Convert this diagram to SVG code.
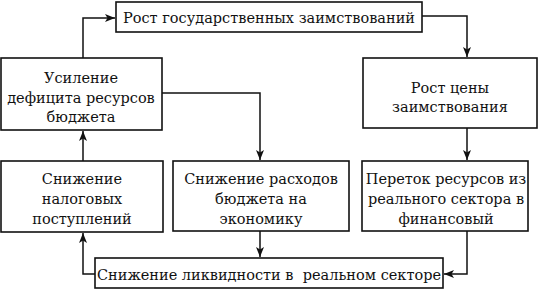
<svg xmlns="http://www.w3.org/2000/svg" width="538" height="290" viewBox="0 0 538 290">
<style>
.box{fill:#fff;stroke:#111;stroke-width:1.6}
.t{font-family:"DejaVu Serif","Liberation Serif",serif;font-size:14.5px;fill:#111;text-anchor:middle}
.c{fill:none;stroke:#111;stroke-width:1.5}
</style>
<defs>
<marker id="ah" viewBox="0 0 10 8" refX="10" refY="4" markerWidth="10" markerHeight="8" markerUnits="userSpaceOnUse" orient="auto">
<path d="M0,0 L10,4 L0,8 L2.5,4 Z" fill="#111"/>
</marker>
</defs>
<rect width="538" height="290" fill="#fff"/>
<g id="connectors">
<path class="c" d="M83,58 V18 H115" marker-end="url(#ah)"/>
<path class="c" d="M422,16 H467 V57" marker-end="url(#ah)"/>
<path class="c" d="M162,93 H260 V160" marker-end="url(#ah)"/>
<path class="c" d="M467,128 V160" marker-end="url(#ah)"/>
<path class="c" d="M467,231 V274 H444" marker-end="url(#ah)"/>
<path class="c" d="M260,231 V257" marker-end="url(#ah)"/>
<path class="c" d="M95,274 H83 V233" marker-end="url(#ah)"/>
<path class="c" d="M83,161 V131" marker-end="url(#ah)"/>
</g>
<g id="top">
<rect class="box" x="116" y="2" width="306" height="30"/>
<text class="t" x="269" y="23">Рост государственных заимствований</text>
</g>
<g id="usil">
<rect class="box" x="1" y="58" width="161" height="72"/>
<text class="t" x="81" y="83">Усиление</text>
<text class="t" x="81" y="103">дефицита ресурсов</text>
<text class="t" x="81" y="122">бюджета</text>
</g>
<g id="rostc">
<rect class="box" x="363" y="58" width="174" height="70"/>
<text class="t" x="450" y="93">Рост цены</text>
<text class="t" x="450" y="112">заимствования</text>
</g>
<g id="nalog">
<rect class="box" x="1" y="161" width="162" height="71"/>
<text class="t" x="82" y="184">Снижение</text>
<text class="t" x="82" y="204">налоговых</text>
<text class="t" x="82" y="224">поступлений</text>
</g>
<g id="rash">
<rect class="box" x="173" y="161" width="176" height="70"/>
<text class="t" x="261" y="184">Снижение расходов</text>
<text class="t" x="261" y="204">бюджета на</text>
<text class="t" x="261" y="224">экономику</text>
</g>
<g id="peretok">
<rect class="box" x="362" y="161" width="166" height="70"/>
<text class="t" x="446" y="184">Переток ресурсов из</text>
<text class="t" x="446" y="204">реального сектора в</text>
<text class="t" x="446" y="224">финансовый</text>
</g>
<g id="bottom">
<rect class="box" x="95" y="258" width="348" height="30"/>
<text class="t" x="269" y="280" xml:space="preserve">Снижение ликвидности в  реальном секторе</text>
</g>
</svg>
